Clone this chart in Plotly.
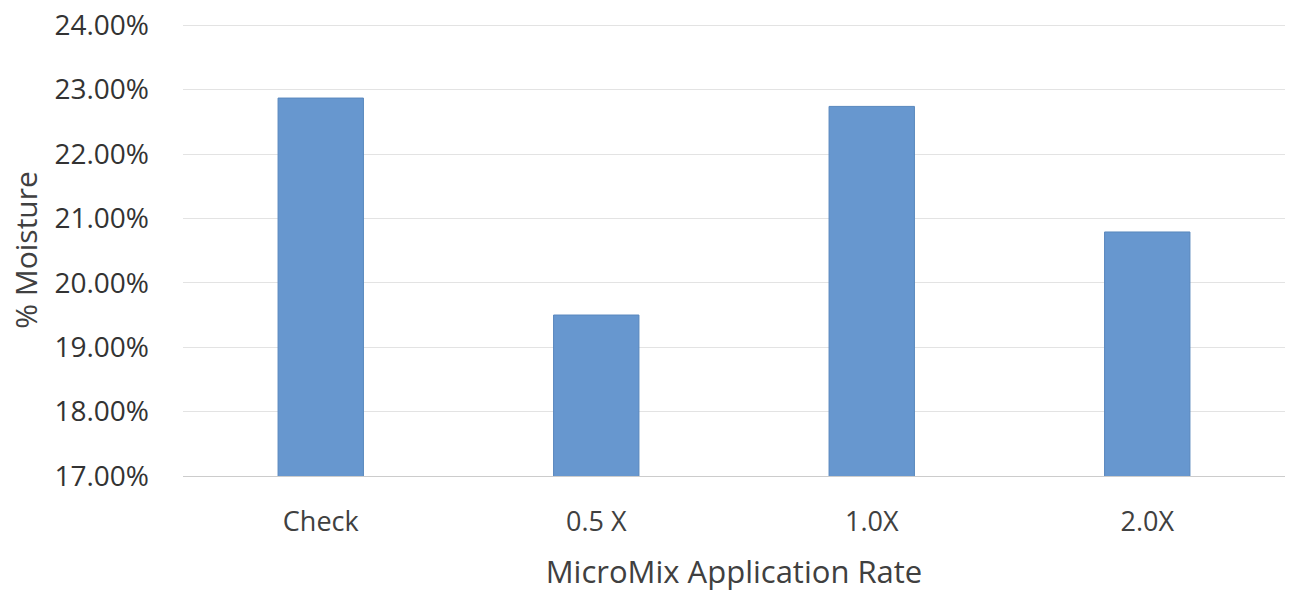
import plotly.graph_objects as go

categories = ["Check", "0.5 X", "1.0X", "2.0X"]
moisture = [0.2287, 0.1950, 0.2274, 0.2079]
y_ticks = [0.17, 0.18, 0.19, 0.20, 0.21, 0.22, 0.23, 0.24]

fig = go.Figure(go.Bar(
    x=categories, y=moisture,
    marker=dict(color="#6797CF", line=dict(color="#5A88BE", width=1)),
    width=0.31,
))

fig.update_layout(
    width=1299, height=592,
    margin=dict(l=183, r=14, t=24, b=116),
    paper_bgcolor="white", plot_bgcolor="white",
    font=dict(family="Open Sans, Noto Sans, sans-serif", color="#333333", size=20),
    showlegend=False,
    xaxis=dict(
        title=dict(text="MicroMix Application Rate", font=dict(size=31, color="#404040"), standoff=32),
        showgrid=False, showline=True, linecolor="#cccccc", linewidth=1,
        ticks="", tickfont=dict(size=27, color="#404040"), ticklabelstandoff=22,
        automargin=False,
    ),
    yaxis=dict(
        title=dict(text="% Moisture", font=dict(size=30, color="#404040"), standoff=7),
        range=[0.17, 0.2402], tickvals=y_ticks, tickformat=".2%",
        showgrid=True, gridcolor="#e3e3e3", gridwidth=1,
        zeroline=False, showline=False, ticks="",
        tickfont=dict(size=28, color="#333333"), ticklabelstandoff=33,
        ticklabeloverflow="allow",
        automargin=False,
    ),
)

fig.write_html("out.html", config={"displayModeBar": False},
               post_script="document.body.style.margin='0px';")
